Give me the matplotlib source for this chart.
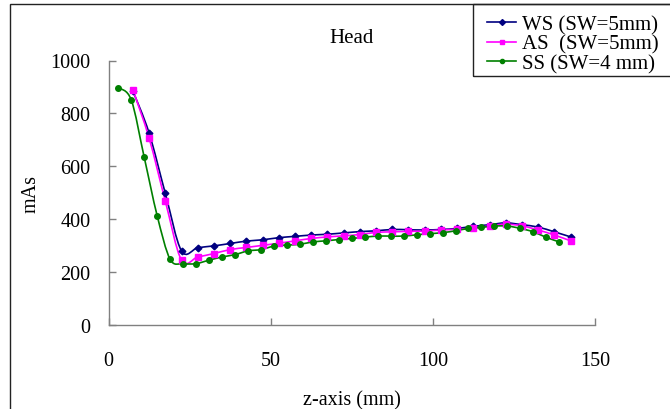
import numpy as np
import matplotlib
matplotlib.use("Agg")
import matplotlib.pyplot as plt
from matplotlib.lines import Line2D
from matplotlib.patches import PathPatch, Rectangle
from matplotlib.path import Path

# Data
ws_x = [7.5, 12.5, 17.5, 22.5, 27.5, 32.5, 37.5, 42.5, 47.5, 52.5, 57.5, 62.5, 67.5, 72.5,
        77.5, 82.5, 87.5, 92.5, 97.5, 102.5, 107.5, 112.5, 117.5, 122.5, 127.5, 132.5, 137.5, 142.5]
ws_y = [885, 726, 498, 280, 292, 299, 308, 317, 322, 330, 335, 340, 343, 348,
        353, 356, 361, 360, 359, 361, 365, 373, 379, 386, 379, 370, 352, 333]

as_x = ws_x
as_y = [890, 707, 469, 245, 257, 270, 285, 293, 301, 309, 318, 327, 333, 337,
        342, 350, 352, 354, 355, 359, 362, 365, 375, 381, 375, 359, 340, 318]

ss_x = [3, 7, 11, 15, 19, 23, 27, 31, 35, 39, 43, 47, 51, 55, 59, 63, 67, 71,
        75, 79, 83, 87, 91, 95, 99, 103, 107, 111, 115, 119, 123, 127, 131, 135, 139]
ss_y = [897, 851, 634, 413, 248, 232, 232, 245, 257, 266, 280, 285, 298, 302, 305, 314, 318, 323,
        327, 332, 336, 336, 336, 341, 345, 349, 356, 365, 369, 374, 374, 365, 352, 331, 314]

SERIES = [
    ("WS (SW=5mm)", ws_x, ws_y, "#000080", "D", 3.4),
    ("AS  (SW=5mm)", as_x, as_y, "#FF00FF", "s", 3.8),
    ("SS (SW=4 mm)", ss_x, ss_y, "#008000", "o", 4.0),
]

FONT = "Liberation Serif"


def smooth_path(x, y, t=1.0 / 6.0):
    pts = np.column_stack([x, y]).astype(float)
    n = len(pts)
    verts = [pts[0]]
    codes = [Path.MOVETO]
    for i in range(n - 1):
        p0 = pts[i - 1] if i > 0 else pts[i]
        p1 = pts[i]
        p2 = pts[i + 1]
        p3 = pts[i + 2] if i + 2 < n else pts[i + 1]
        verts += [p1 + (p2 - p0) * t, p2 - (p3 - p1) * t, p2]
        codes += [Path.CURVE4] * 3
    return Path(verts, codes)


plt.rcParams["font.family"] = FONT

fig = plt.figure(figsize=(6.7, 4.1), dpi=100)
ax = fig.add_axes([0.162, 0.205, 0.726, 0.645])

handles = []
for label, xs, ys, color, marker, ms in SERIES:
    ax.add_patch(PathPatch(smooth_path(xs, ys), fill=False, edgecolor=color, linewidth=1.2))
    ax.plot(xs, ys, linestyle="none", marker=marker, markersize=ms, color=color)
    handles.append(Line2D([], [], color=color, marker=marker, markersize=3, linewidth=1.2, label=label))

ax.set_xlim(0, 150)
ax.set_ylim(0, 1000)
ax.set_xticks([0, 50, 100, 150])
ax.set_yticks([0, 200, 400, 600, 800, 1000])
ax.tick_params(direction="in", length=5, width=1, color="#808080", labelsize=14.5)
ax.tick_params(axis="x", pad=19)
ax.tick_params(axis="y", pad=13)
for side in ("top", "right"):
    ax.spines[side].set_visible(False)
for side in ("left", "bottom"):
    ax.spines[side].set_color("#808080")
    ax.spines[side].set_linewidth(1.0)

ax.set_xlabel("z-axis (mm)", fontsize=14.5, labelpad=14)
ax.set_ylabel("mAs", fontsize=14.5, labelpad=7)
ax.set_title("Head", fontsize=15, pad=13)

# outer chart border and legend box (both run off the image edge)
fig.patches.append(Rectangle((10 / 670, -0.5), 2.0, 0.5 + 1 - 5 / 410, transform=fig.transFigure,
                             fill=False, edgecolor="#222222", linewidth=1.0))
fig.patches.append(Rectangle((473 / 670, 1 - 77 / 410), 1.0, 72 / 410, transform=fig.transFigure,
                             fill=False, edgecolor="#222222", linewidth=1.0))

fig.legend(handles=handles, loc="center left", bbox_to_anchor=(487 / 670, 1 - 45 / 410),
           frameon=False, fontsize=15, labelspacing=0.0, handlelength=1.4, handletextpad=0.3,
           borderpad=0, borderaxespad=0)

fig.savefig("out.png", dpi=100, facecolor="white")
